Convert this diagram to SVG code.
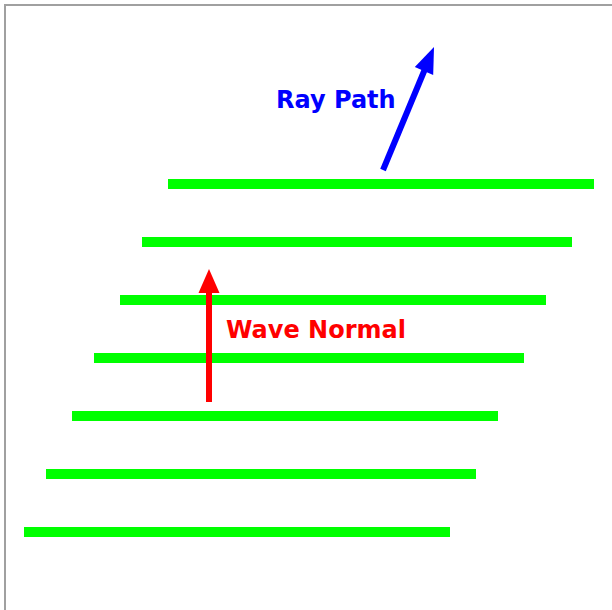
<svg xmlns="http://www.w3.org/2000/svg" width="612" height="610" viewBox="0 0 612 610">
<style>
.wave{stroke:#00ff00;stroke-width:10;fill:none}
.lbl{font-family:"DejaVu Sans",Verdana,sans-serif;font-weight:bold;font-size:24px}
</style>
<rect width="612" height="610" fill="#ffffff"/>
<g id="frame" fill="#a0a0a0">
<rect x="4" y="4" width="608" height="2"/>
<rect x="4" y="4" width="2" height="606"/>
</g>
<g id="wavefronts" class="wave">
<line x1="168" y1="184" x2="594" y2="184"/>
<line x1="142" y1="242" x2="572" y2="242"/>
<line x1="120" y1="300" x2="546" y2="300"/>
<line x1="94" y1="358" x2="524" y2="358"/>
<line x1="72" y1="416" x2="498" y2="416"/>
<line x1="46" y1="474" x2="476" y2="474"/>
<line x1="24" y1="532" x2="450" y2="532"/>
</g>
<g id="connectors">
<g id="wave-normal-arrow">
<line x1="209" y1="402" x2="209" y2="291" stroke="#ff0000" stroke-width="6"/>
<polygon points="209,269 198.5,293 219.5,293" fill="#ff0000"/>
</g>
<g id="ray-path-arrow">
<line x1="383" y1="170" x2="425" y2="69" stroke="#0000ff" stroke-width="6"/>
<polygon points="434,47 433.2,74.9 414.8,67.1" fill="#0000ff"/>
</g>
</g>
<g id="label-ray-path">
<text class="lbl" x="276" y="108" fill="#0000ff">Ray Path</text>
</g>
<g id="label-wave-normal">
<text class="lbl" x="226" y="338" fill="#ff0000">Wave Normal</text>
</g>
</svg>
